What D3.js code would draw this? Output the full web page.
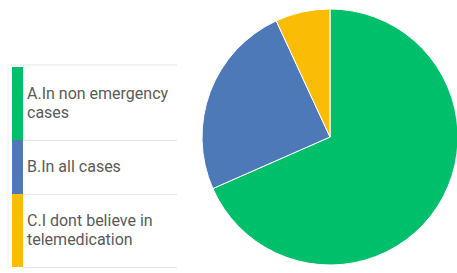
<!DOCTYPE html>
<html>
<head>
<meta charset="utf-8">
<script src="https://cdn.jsdelivr.net/npm/d3@7"></script>
<style>
  html, body { margin: 0; padding: 0; background: #fff; }
  svg { display: block; font-family: Roboto, "Noto Sans", sans-serif; }
</style>
</head>
<body>
<svg id="chart" width="457" height="273"></svg>
<script>
// === Data ===
const labels = ['A.In non emergency cases', 'B.In all cases', 'C.I dont believe in telemedication'];
const legendLines = [['A.In non emergency', 'cases'], ['B.In all cases'], ['C.I dont believe in', 'telemedication']];
const values = [68.4, 24.7, 6.9];
const colors = ['#00bf6a', '#4e79b8', '#fbbc05'];

(function () {
    const svg = d3.select('#chart');

    // === Pie ===
    const cx = 330, cy = 137, r = 128;
    const pie = d3.pie().sort(null).value(d => d.value);
    const arc = d3.arc().innerRadius(0).outerRadius(r);
    const data = labels.map((l, i) => ({ label: l, value: values[i], color: colors[i] }));

    svg.append('g')
        .attr('transform', `translate(${cx},${cy})`)
        .selectAll('path')
        .data(pie(data))
        .join('path')
        .attr('d', arc)
        .attr('fill', d => d.data.color)
        .attr('stroke', '#fff')
        .attr('stroke-width', 1);

    // === Legend ===
    const lx = 12, lw = 165, barW = 11, lineH = 19, top = 67;
    const heights = legendLines.map(ls => 35 + lineH * ls.length);
    let y = top;
    const rows = legendLines.map((ls, i) => {
        const row = { i, lines: ls, y, h: heights[i] };
        y += heights[i];
        return row;
    });

    const legend = svg.append('g');

    // faint card border
    legend.append('line')
        .attr('x1', 8).attr('x2', 8).attr('y1', top - 4).attr('y2', y + 3)
        .attr('stroke', '#f1f1f1').attr('stroke-width', 1);

    legend.append('line')
        .attr('x1', lx - 2).attr('x2', lx + lw).attr('y1', top - 2).attr('y2', top - 2)
        .attr('stroke', '#e6e6e6').attr('stroke-width', 1);

    const row = legend.selectAll('g.row')
        .data(rows)
        .join('g')
        .attr('class', 'row')
        .attr('transform', d => `translate(0,${d.y})`);

    row.append('rect')
        .attr('x', lx).attr('y', 0)
        .attr('width', barW).attr('height', d => d.h)
        .attr('fill', d => colors[d.i]);

    row.append('line')
        .attr('x1', lx + barW).attr('x2', lx + lw)
        .attr('y1', d => d.h + 0.5).attr('y2', d => d.h + 0.5)
        .attr('stroke', '#e6e6e6').attr('stroke-width', 1);

    row.each(function (d) {
        const off = (d.h - d.lines.length * lineH) / 2 + 14;
        d3.select(this).selectAll('text')
            .data(d.lines)
            .join('text')
            .attr('x', 27)
            .attr('y', (t, j) => off + j * lineH)
            .attr('font-size', 16)
            .attr('fill', '#5a5a5a')
            .text(t => t);
    });
})();
</script>
</body>
</html>
